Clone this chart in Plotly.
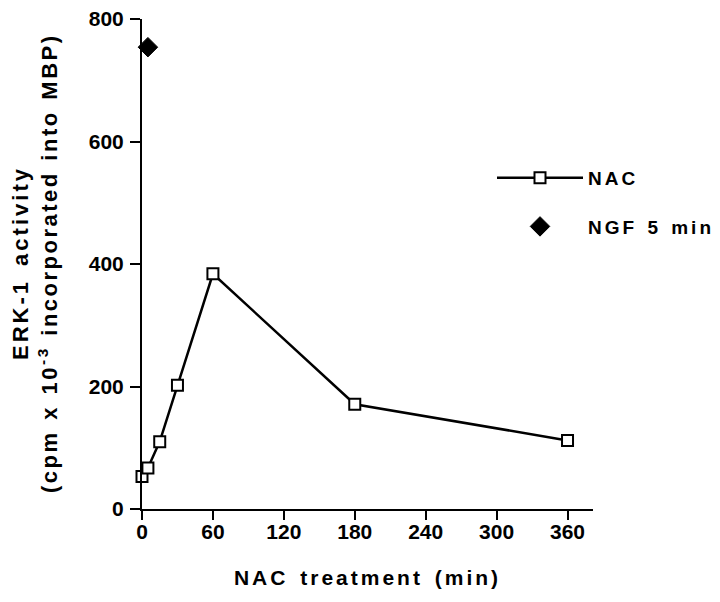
import plotly.graph_objects as go

# Data
nac_time = [0, 5, 15, 30, 60, 180, 360]
nac_activity = [53, 67, 110, 202, 384, 171, 112]
ngf_time = [5]
ngf_activity = [754]
x_ticks = [0, 60, 120, 180, 240, 300, 360]
y_ticks = [0, 200, 400, 600, 800]

FONT = "Liberation Sans"


def spaced(text, ls, ws=0):
    return ('<span style="letter-spacing:%spx;word-spacing:%spx">%s</span>'
            % (ls, ws, text))


fig = go.Figure()
fig.add_trace(go.Scatter(
    x=nac_time, y=nac_activity, mode="lines+markers",
    name=spaced("NAC", 3, 2),
    line=dict(color="black", width=2.5),
    marker=dict(symbol="square", size=11, color="white",
                line=dict(color="black", width=2)),
    cliponaxis=False, legendgroup="a",
))
fig.add_trace(go.Scatter(
    x=ngf_time, y=ngf_activity, mode="markers",
    name=spaced("NGF 5 min", 3, 2),
    marker=dict(symbol="diamond", size=15, color="black",
                line=dict(color="black", width=1)),
    cliponaxis=False, legendgroup="b",
))

# page body has an 8px default margin, so the figure is offset by 8px
OFF = 8
W, H = 720 - OFF, 602 - OFF
ml, mr, mt, mb = 134, 127, 11, 93
pw = W - ml - mr
ph = H - mt - mb


def px(xw):
    return (xw - OFF - ml) / pw


def py(yw):
    return (H - mb - (yw - OFF)) / ph


fig.update_layout(
    width=W, height=H,
    margin=dict(l=ml, r=mr, t=mt, b=mb, autoexpand=False),
    paper_bgcolor="white", plot_bgcolor="white",
    font=dict(family=FONT, size=20, color="black", weight="bold"),
    showlegend=True,
    legend=dict(x=px(492), y=py(176) + 0.035, xanchor="left", yanchor="top",
                font=dict(size=19, family=FONT, weight="bold"),
                itemwidth=86, tracegroupgap=21, bgcolor="rgba(0,0,0,0)"),
    xaxis=dict(range=[0, pw / 1.182], tickvals=x_ticks, ticks="outside",
               ticklen=9, tickwidth=2, tickcolor="black",
               showline=True, linewidth=2, linecolor="black",
               showgrid=False, zeroline=False, automargin=False,
               ticklabelstandoff=-6, ticklabeloverflow="allow",
               tickfont=dict(size=21, family=FONT, weight="bold"),
               title=dict(text=spaced("NAC treatment (min)", 3, 3),
                          standoff=28,
                          font=dict(size=21, family=FONT, weight="bold"))),
    yaxis=dict(range=[0, 800], tickvals=y_ticks, ticks="outside",
               ticklen=10, tickwidth=2, tickcolor="black",
               showline=True, linewidth=2, linecolor="black",
               showgrid=False, zeroline=False, automargin=False,
               ticklabelstandoff=2, ticklabeloverflow="allow",
               tickfont=dict(size=21, family=FONT, weight="bold")),
    annotations=[
        dict(text=spaced("ERK-1 activity", 3, 4), xref="paper", yref="paper",
             x=px(20), y=py(263), textangle=-90, showarrow=False,
             xanchor="center", yanchor="middle",
             font=dict(size=22, family=FONT, weight="bold")),
        dict(text=spaced("(cpm x 10<sup>-3</sup> incorporated into MBP)", 2.5, 2),
             xref="paper", yref="paper",
             x=px(48), y=py(263), textangle=-90, showarrow=False,
             xanchor="center", yanchor="middle",
             font=dict(size=22, family=FONT, weight="bold")),
    ],
)

fig.write_html("out.html")
